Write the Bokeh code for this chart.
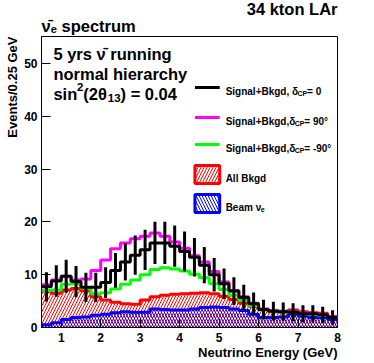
import numpy as np
from bokeh.plotting import figure
from bokeh.models import Range1d, Label, FixedTicker, Title
from bokeh.embed import file_html
from bokeh.resources import INLINE

# ---------------- data (events per 0.25 GeV bin, 0.5 - 8 GeV) ----------------
bin_start, bin_stop, bin_width = 0.5, 8.0, 0.25
sig_dcp0 = [7.7, 8.8, 9.7, 8.7, 7.6, 7.6, 8.5, 10.8, 12.4, 13.7, 14.7, 16.0, 16.0, 15.4, 14.4,
            13.3, 11.8, 10.0, 8.3, 6.9, 5.7, 4.5, 3.4, 3.1, 3.0, 2.9, 2.6, 2.6, 2.4, 1.9]
err_dcp0 = [2.77, 2.97, 3.11, 2.95, 2.76, 2.76, 2.92, 3.29, 3.52, 3.70, 3.83, 4.00, 4.00, 3.92, 3.79,
            3.65, 3.44, 3.16, 2.88, 2.63, 2.39, 2.12, 1.84, 1.76, 1.73, 1.70, 1.61, 1.61, 1.55, 1.38]
sig_dcp90 = [8.1, 9.0, 9.7, 9.0, 9.2, 10.8, 12.8, 14.9, 16.0, 16.8, 17.3, 17.9, 17.3, 16.2, 15.0,
             13.6, 12.4, 10.6, 8.6, 7.0, 5.8, 4.6, 3.5, 3.2, 3.1, 3.0, 2.7, 2.7, 2.5, 2.0]
sig_dcpm90 = [7.0, 7.1, 8.2, 8.3, 7.5, 6.4, 6.6, 7.3, 8.2, 9.0, 10.0, 11.0, 11.3, 11.1, 10.7,
              10.1, 9.4, 8.3, 7.2, 6.1, 5.1, 4.1, 3.3, 3.0, 2.9, 2.9, 2.6, 2.5, 2.3, 1.9]
all_bkgd = [6.9, 6.5, 7.1, 7.4, 6.9, 5.8, 5.2, 4.8, 4.5, 4.4, 5.2, 5.8, 6.1, 6.3, 6.4,
            6.5, 6.6, 6.4, 5.9, 5.3, 4.6, 4.0, 3.4, 3.0, 3.0, 3.3, 3.0, 2.8, 2.7, 2.1]
beam_nue = [0.5, 0.9, 1.5, 1.9, 2.0, 2.3, 2.5, 2.8, 3.0, 2.9, 2.9, 3.5, 3.4, 3.3, 3.3,
            3.5, 3.8, 3.9, 3.8, 3.5, 3.2, 2.5, 1.9, 1.9, 2.0, 2.5, 2.2, 1.9, 1.9, 1.5]
x_ticks = [1, 2, 3, 4, 5, 6, 7, 8]
y_ticks = [0, 10, 20, 30, 40, 50]

# ---------------- layout ----------------
W, H = 374, 363
XMIN, XMAX, YMIN, YMAX = 0.5, 8.0, 0.0, 55.1
FL, FR, FT, FB = 38, 337, 36, 327          # frame edges in page pixels
FONT = "Liberation Sans"

def dx(px):
    return XMIN + (px - FL) * (XMAX - XMIN) / (FR - FL)

def dy(py):
    return YMIN + (FB - py) * (YMAX - YMIN) / (FB - FT)

p = figure(width=W, height=H, x_range=Range1d(XMIN, XMAX), y_range=Range1d(YMIN, YMAX),
           output_backend="svg", toolbar_location=None,
           min_border_left=FL, min_border_right=W - FR,
           min_border_top=FT, min_border_bottom=H - FB)
p.xgrid.visible = False
p.ygrid.visible = False
p.outline_line_color = "black"
p.outline_line_width = 1
p.background_fill_color = "white"
p.border_fill_color = "white"

for ax, ticks, nminor, standoff in ((p.xaxis, x_ticks, 5, 5), (p.yaxis, y_ticks, 5, 4)):
    ax.ticker = FixedTicker(ticks=ticks, num_minor_ticks=nminor)
    ax.major_tick_in = 9
    ax.major_tick_out = 0
    ax.minor_tick_in = 5
    ax.minor_tick_out = 0
    ax.major_label_standoff = standoff
    ax.major_label_text_font = FONT
    ax.major_label_text_font_style = "bold"
    ax.major_label_text_font_size = "12px"
    ax.major_label_text_color = "black"
    ax.axis_line_color = "black"
    ax.major_tick_line_color = "black"
    ax.minor_tick_line_color = "black"

def side_title(text, align, standoff, size="13px", offset=0):
    return Title(text=text, align=align, text_font=FONT, text_font_style="bold",
                 text_color="black", text_font_size=size, standoff=standoff,
                 text_line_height=1.0, offset=offset)

# axis titles flush with the axis ends (ROOT style)
p.add_layout(side_title("Neutrino Energy (GeV)", "right", -3), "below")
p.add_layout(side_title("Events/0.25 GeV", "right", 4), "left")

# titles above the frame (later-added titles sit closer to the frame)
p.title.text = "34 kton LAr"
p.title.align = "right"
p.title.text_font = FONT
p.title.text_font_style = "bold"
p.title.text_font_size = "16.5px"
p.title.text_color = "black"
p.title.standoff = -8
p.title.text_line_height = 1.0
p.add_layout(side_title("ν\u0304\u2091 spectrum", "left", 3, "16.5px"), "above")

edges = bin_start + bin_width * np.arange(len(sig_dcp0) + 1)
centers = edges[:-1] + bin_width / 2

def stepy(vals):
    return list(vals) + [vals[-1]]

# filled (hatched) backgrounds
p.varea_step(x=edges, y1=0, y2=stepy(all_bkgd), step_mode="after", fill_alpha=0,
             hatch_pattern="/", hatch_color="#ff0000", hatch_scale=6, hatch_weight=1)
p.varea_step(x=edges, y1=0, y2=stepy(beam_nue), step_mode="after", fill_alpha=0,
             hatch_pattern="\\", hatch_color="#0000ff", hatch_scale=6, hatch_weight=1)

p.step(edges, stepy(all_bkgd), mode="after", line_color="#ff0000", line_width=3)
p.step(edges, stepy(beam_nue), mode="after", line_color="#0000ff", line_width=3)
p.step(edges, stepy(sig_dcpm90), mode="after", line_color="#00ff00", line_width=3)
p.step(edges, stepy(sig_dcp90), mode="after", line_color="#ff00ff", line_width=3)
p.step(edges, stepy(sig_dcp0), mode="after", line_color="black", line_width=3)
lo = [v - e for v, e in zip(sig_dcp0, err_dcp0)]
hi = [v + e for v, e in zip(sig_dcp0, err_dcp0)]
p.segment(x0=centers, y0=lo, x1=centers, y1=hi, line_color="black", line_width=3)

# ---------------- text helpers ----------------
CW = {' ': 278, '(': 333, ')': 333, '+': 584, ',': 278, '-': 333, '.': 278, '/': 278, '=': 584,
      'A': 722, 'B': 722, 'C': 722, 'E': 667, 'G': 778, 'L': 611, 'N': 722, 'P': 667, 'S': 667, 'V': 667,
      'a': 556, 'b': 611, 'c': 556, 'd': 611, 'e': 556, 'g': 611, 'h': 611, 'i': 278, 'k': 556,
      'l': 278, 'm': 889, 'n': 611, 'o': 611, 'p': 611, 'r': 389, 's': 556, 't': 333, 'u': 611,
      'v': 556, 'y': 556, 'ν': 556, 'δ': 611, 'θ': 611, '°': 400, '\u0304': 0}

def tw(t):
    return sum(CW.get(c, 556) for c in t) / 1000.0

def put(text, px, py, size, align="left", angle=0.0):
    p.add_layout(Label(x=dx(px), y=dy(py), text=text, text_font=FONT, text_font_style="bold",
                       text_font_size=f"{size:.1f}px", text_align=align,
                       text_baseline="alphabetic", angle=angle, text_color="black"))

def rich(pieces, px, py, size):
    for t, kind in pieces:
        if kind == "n":
            s, sh = size, 0.0
        elif kind == "sub":
            s, sh = size * 0.7, size * 0.28
        else:
            s, sh = size * 0.7, -size * 0.42
        put(t, px, py + sh, s)
        px += tw(t) * s

NUBAR = "ν\u0304"
rich([("5 yrs " + NUBAR + " running", "n")], 50, 53.5, 16.5)
rich([("normal hierarchy", "n")], 50, 73, 16.5)
rich([("sin", "n"), ("2", "sup"), ("(2θ", "n"), ("13", "sub"), (") = 0.04", "n")], 50, 93, 16.5)

# legend
LS = 10
leg_lines = [(87, "black", [("Signal+Bkgd, δ", "n"), ("CP", "sub"), ("  = 0", "n")]),
             (117, "#ff00ff", [("Signal+Bkgd,δ", "n"), ("CP", "sub"), ("  = 90°", "n")]),
             (144, "#00ff00", [("Signal+Bkgd,δ", "n"), ("CP", "sub"), ("  = -90°", "n")])]
for py, col, pcs in leg_lines:
    p.line([dx(193), dx(218)], [dy(py), dy(py)], line_color=col, line_width=3)
    rich(pcs, 224, py + 3.5, LS)

for top, bot, col, hp, pcs in ((165, 183, "#ff0000", "/", [("All Bkgd", "n")]),
                               (194, 212, "#0000ff", "\\", [("Beam ν", "n"), ("e", "sub")])):
    p.quad(left=dx(193), right=dx(218), top=dy(top), bottom=dy(bot), fill_alpha=0,
           line_color=col, line_width=3, hatch_pattern=hp, hatch_color=col,
           hatch_scale=6, hatch_weight=1)
    rich(pcs, 224, (top + bot) / 2 + 3.5, LS)

open("out.html", "w").write(file_html(p, INLINE))
